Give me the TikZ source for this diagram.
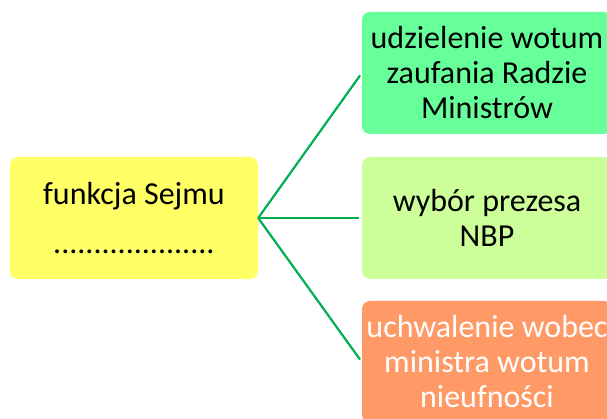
\documentclass[tikz,border=0pt]{standalone}
\usepackage{fontspec}
\setmainfont{Carlito}
\definecolor{cyel}{HTML}{FFFF66}
\definecolor{cgreen}{HTML}{66FF99}
\definecolor{clime}{HTML}{CCFF99}
\definecolor{corange}{HTML}{FF9966}
\definecolor{cline}{HTML}{00B050}
\tikzset{
  box/.style={rectangle, rounded corners=8pt, inner sep=0pt, align=center,
    font=\fontsize{32}{35}\selectfont, minimum height=122pt},
  conn/.style={draw=cline, line width=2.2pt, shorten >=3pt}
}
\begin{document}
\begin{tikzpicture}[x=1pt,y=1pt]
\path[use as bounding box] (0,0) rectangle (607,419);
\clip (0,0) rectangle (607,419);
\node[box, fill=cyel, minimum width=248pt] (f) at (134,201) {funkcja Sejmu\\[14pt]....................};
\node[box, fill=cgreen, minimum width=250pt] (a) at (487,346) {udzielenie wotum\\zaufania Radzie\\Ministrów};
\node[box, fill=clime, minimum width=250pt] (b) at (487,201) {wybór prezesa\\NBP};
\node[box, fill=corange, text=white, minimum width=250pt] (c) at (487,57) {uchwalenie wobec\\ministra wotum\\nieufności};
\draw[conn] (f.east) -- (a.west);
\draw[conn] (f.east) -- (b.west);
\draw[conn] (f.east) -- (c.west);
\end{tikzpicture}
\end{document}
